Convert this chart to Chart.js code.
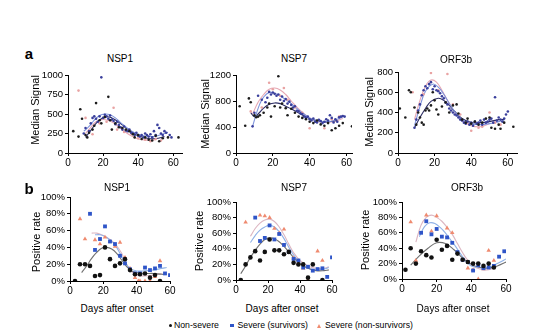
<!DOCTYPE html>
<html>
<head>
<meta charset="utf-8">
<script src="https://cdn.jsdelivr.net/npm/chart.js@4.4.1/dist/chart.umd.min.js"></script>
<style>
  body { margin:0; width:554px; height:335px; background:#fff; position:relative; overflow:hidden;
         font-family:"Liberation Sans", Arial, sans-serif; color:#000; }
  canvas { position:absolute; }
  .lbl { position:absolute; white-space:nowrap; line-height:1; transform:translate(-50%,-50%); }
  .ttl { font-size:10px; }
  .ytl { font-size:11px; transform:translate(-50%,-50%) rotate(-90deg); }
  .xtl { font-size:10px; }
  .let { font-size:15px; font-weight:bold; }
  .leg { position:absolute; top:320px; font-size:8.7px; white-space:nowrap; line-height:10px; }
  .leg span { display:inline-block; vertical-align:middle; margin-right:4px; }
</style>
</head>
<body>
<div class="leg" style="left:169px"><span style="width:3px;height:3px;border-radius:50%;background:#111;margin-right:2px"></span>Non-severe</div>
<div class="leg" style="left:230px"><span style="width:3.5px;height:3.5px;background:#2f55c8"></span>Severe (survivors)</div>
<div class="leg" style="left:317px"><span style="width:0;height:0;border-left:2.5px solid transparent;border-right:2.5px solid transparent;border-bottom:4px solid #ef8a6f"></span>Severe (non-survivors)</div>
<script>
// ---------- axis ticks ----------
const dayTicks = [0, 20, 40, 60];
const nsp1SignalTicks = [0, 250, 500, 750, 1000];
const nsp7SignalTicks = [0, 400, 800, 1200];
const orf3bSignalTicks = [0, 200, 400, 600, 800];
const rateTicks = [0, 20, 40, 60, 80, 100];

// ---------- a: median signal, NSP1 ----------
const nsp1SigNonSevere = [[3,280],[6,210],[7,560],[8,440],[10,230],[11,200],[12,260],[14,300],[15,350],[16,640],[18,420],[19,380],[21,460],[23,720],[24,420],[25,300],[27,380],[29,330],[31,320],[33,300],[35,280],[37,240],[38,200],[40,230],[42,180],[44,200],[46,170],[48,160],[50,220],[52,150],[54,190],[57,200],[63,200]];
const nsp1SigSurvivors = [[9,250],[10,320],[12,280],[13,380],[14,450],[15,470],[16,440],[17,400],[18,470],[19,970],[20,450],[21,490],[22,470],[23,440],[24,480],[25,430],[26,410],[27,370],[28,400],[29,360],[30,330],[31,300],[32,340],[33,290],[34,280],[35,300],[36,260],[37,250],[38,230],[39,260],[40,220],[41,210],[42,230],[43,200],[44,250],[45,230],[46,210],[47,240],[48,200],[49,280],[50,230],[51,360],[52,320],[53,250],[54,230],[55,280],[56,260],[58,230],[59,200]];
const nsp1SigNonSurvivors = [[6,800],[10,450],[14,240],[18,380],[22,400],[26,580],[28,300],[32,270],[36,250],[40,190],[44,170],[47,150],[50,180],[53,160]];
const nsp1SigFitDaysSurv = [9,12,15,18,21,24,27,30,35,40,45,50,55,57];
const nsp1SigFitSurv     = [280,340,420,480,500,490,450,390,300,240,215,215,250,265];
const nsp1SigFitDaysNon  = [10,13,16,19,22,25,28,31,35,40,45,50,55];
const nsp1SigFitNon      = [200,290,380,440,465,450,410,360,290,220,190,185,210];
const nsp1SigFitDaysDead = [10,13,16,20,24,28,32,36,40,45,50];
const nsp1SigFitDead     = [250,330,400,430,410,350,280,220,180,165,170];

// ---------- a: median signal, NSP7 ----------
const nsp7SigNonSevere = [[2,720],[5,420],[7,840],[8,780],[10,580],[11,550],[12,560],[13,580],[15,620],[17,700],[18,760],[19,560],[21,720],[23,1180],[24,700],[25,760],[27,690],[28,580],[30,680],[32,620],[34,560],[36,540],[38,520],[40,480],[42,460],[44,500],[46,440],[48,420],[50,460],[52,350],[54,380],[56,420],[58,460],[63,410]];
const nsp7SigSurvivors = [[9,410],[10,620],[12,880],[14,820],[16,780],[17,850],[18,940],[19,900],[20,930],[21,910],[22,880],[23,900],[24,820],[25,870],[26,800],[27,830],[28,760],[29,790],[30,740],[31,700],[32,720],[33,650],[34,640],[35,610],[36,600],[37,560],[38,540],[39,560],[40,520],[41,500],[42,530],[43,480],[44,470],[45,510],[46,490],[47,460],[48,480],[49,520],[50,500],[51,580],[52,540],[53,470],[54,520],[55,480],[56,550],[57,560],[58,570],[59,560]];
const nsp7SigNonSurvivors = [[8,640],[14,700],[18,1080],[20,980],[24,880],[26,1000],[28,820],[32,700],[36,620],[40,380],[44,480],[48,380],[52,520],[56,560]];
const nsp7SigFitDaysSurv = [9,11,13,15,18,21,24,27,30,35,40,45,50,55,59];
const nsp7SigFitSurv     = [410,600,760,860,930,920,880,820,760,640,540,490,480,520,570];
const nsp7SigFitDaysNon  = [8,10,12,15,18,21,24,27,30,35,40,45,50,55];
const nsp7SigFitNon      = [620,560,600,690,750,770,760,720,680,600,530,490,480,500];
const nsp7SigFitDaysDead = [9,12,15,18,21,24,27,30,35,40,45,50,55,58];
const nsp7SigFitDead     = [600,780,900,980,1000,970,900,800,650,540,480,470,500,530];

// ---------- a: median signal, ORF3b ----------
const orf3bSigNonSevere = [[1,440],[4,350],[6,620],[7,600],[9,450],[10,280],[11,400],[12,350],[13,300],[14,280],[15,420],[16,440],[17,420],[18,470],[19,600],[20,520],[21,430],[22,380],[24,460],[26,500],[28,400],[30,470],[32,480],[33,390],[35,330],[37,300],[38,340],[40,290],[42,310],[44,280],[46,300],[48,340],[50,350],[51,250],[53,240],[55,280],[56,240],[58,300],[63,260]];
const orf3bSigSurvivors = [[9,250],[10,330],[11,420],[12,480],[13,570],[14,620],[15,660],[16,640],[17,680],[18,700],[19,630],[20,660],[21,620],[22,610],[23,590],[24,560],[25,540],[26,500],[27,480],[28,440],[29,420],[30,400],[31,380],[32,370],[33,350],[34,330],[35,320],[36,300],[37,290],[38,310],[39,280],[40,300],[41,270],[42,310],[43,290],[44,300],[45,320],[46,280],[47,330],[48,300],[49,310],[50,330],[51,340],[52,300],[53,550],[54,320],[55,350],[56,330],[57,310],[58,340],[59,380],[60,410]];
const orf3bSigNonSurvivors = [[8,600],[14,580],[18,790],[22,620],[27,780],[30,480],[34,380],[38,300],[40,220],[44,250],[46,260],[50,400],[53,300],[56,280]];
const orf3bSigFitDaysSurv = [9,12,15,19,22,25,28,31,35,40,45,50,55,58];
const orf3bSigFitSurv     = [270,460,610,680,650,580,490,410,330,290,280,290,310,320];
const orf3bSigFitDaysNon  = [9,12,15,18,22,25,28,31,35,40,45,50,55,58];
const orf3bSigFitNon      = [250,350,440,510,540,520,470,410,340,300,300,310,330,330];
const orf3bSigFitDaysDead = [9,12,15,18,21,24,27,30,35,40,45,50];
const orf3bSigFitDead     = [330,520,660,720,700,620,520,430,320,270,260,290];

// ---------- b: positive rate (%), NSP1 ----------
const nsp1RateNonSevere = [[3,0],[6,20],[9,20],[12,18],[15,6],[18,7],[21,40],[24,26],[27,18],[30,21],[33,26],[36,13],[39,8],[42,8],[45,9],[48,4],[51,7],[54,0]];
const nsp1RateSurvivors = [[12,80],[15,37],[18,50],[21,65],[24,47],[27,44],[30,30],[33,21],[36,14],[39,9],[42,9],[45,16],[48,13],[51,15],[54,18],[57,9],[60,7]];
const nsp1RateNonSurvivors = [[6,74],[9,50],[15,49],[18,44],[21,52],[24,47],[27,41],[30,46],[33,28],[36,15],[39,4],[41,0],[42,0],[45,0],[48,0],[51,5],[54,24]];
const nsp1RateFitDaysNon  = [7,10,13,16,19,22,25,28,31,34,37,40,45,50,55,58];
const nsp1RateFitNon      = [10,18,27,34,39,40,38,33,25,17,12,10,9,9,8,8];
const nsp1RateFitDaysSurv = [15,18,21,24,27,30,33,36,40,45,50,55,58];
const nsp1RateFitSurv     = [55,55,53,49,43,33,22,15,12,12,13,15,16];
const nsp1RateFitDaysDead = [13,16,19,22,25,28,31,34,37,40,45,50,55];
const nsp1RateFitDead     = [57,57,55,52,48,42,33,20,11,7,6,7,9];

// ---------- b: positive rate (%), NSP7 ----------
const nsp7RateNonSevere = [[3,0],[6,20],[9,29],[12,37],[15,25],[18,36],[21,52],[24,38],[27,38],[30,33],[33,36],[36,22],[39,20],[42,20],[45,3],[48,20],[54,0]];
const nsp7RateSurvivors = [[12,80],[15,50],[18,54],[21,70],[24,52],[27,59],[30,45],[33,36],[36,27],[39,25],[42,16],[45,17],[48,12],[51,14],[54,15],[57,4],[60,29]];
const nsp7RateNonSurvivors = [[6,74],[15,83],[18,82],[21,80],[24,66],[27,60],[30,65],[36,28],[39,22],[42,15],[45,0],[51,37],[54,25]];
const nsp7RateFitDaysNon  = [3,6,9,12,15,18,21,24,27,30,33,36,40,45,50,55,58];
const nsp7RateFitNon      = [8,18,29,38,46,52,54,53,49,43,36,29,21,15,12,12,13];
const nsp7RateFitDaysSurv = [9,12,15,18,21,24,27,30,33,36,40,45,50,55,58];
const nsp7RateFitSurv     = [48,57,64,68,70,68,62,53,42,32,22,15,13,14,16];
const nsp7RateFitDaysDead = [9,12,15,18,21,24,27,30,33,36,40,45,50,55,58];
const nsp7RateFitDead     = [56,66,73,77,78,75,68,58,46,35,25,18,15,15,17];

// ---------- b: positive rate (%), ORF3b ----------
const orf3bRateNonSevere = [[2,12],[5,40],[8,20],[11,36],[14,31],[17,28],[20,51],[23,38],[26,43],[29,25],[32,33],[35,25],[38,22],[41,20],[44,20],[47,17],[50,20],[53,15]];
const orf3bRateSurvivors = [[11,60],[14,75],[17,58],[20,65],[23,55],[26,54],[29,47],[32,35],[35,25],[38,22],[41,11],[44,18],[47,14],[50,15],[53,17],[56,29],[59,36]];
const orf3bRateNonSurvivors = [[5,74],[8,24],[14,83],[17,62],[20,82],[26,66],[29,60],[35,25],[38,14],[41,12],[44,0],[47,13],[50,37],[53,24]];
const orf3bRateFitDaysNon  = [5,10,15,20,25,30,35,40,45,50,55,60];
const orf3bRateFitNon      = [18,30,40,47,46,38,27,19,15,14,17,22];
const orf3bRateFitDaysSurv = [10,13,16,19,22,25,28,31,34,37,40,45,50,55,60];
const orf3bRateFitSurv     = [55,68,73,72,67,60,51,42,32,23,17,15,15,20,26];
const orf3bRateFitDaysDead = [8,11,14,17,20,23,26,29,32,35,38,41,45,50,54];
const orf3bRateFitDead     = [48,70,80,83,80,75,67,58,46,34,24,17,13,12,16];

// ---------- helpers ----------
Chart.defaults.font.family = '"Liberation Sans", Arial, sans-serif';
Chart.defaults.color = '#000';

const YW = 36, XH = 17, PT = 8, PR = 10;
const pts = arr => arr.map(p => ({ x: p[0], y: p[1] }));
const fit = (days, vals) => days.map((d, i) => ({ x: d, y: vals[i] }));

function label(text, x, y, cls) {
    const d = document.createElement('div');
    d.className = 'lbl ' + cls;
    d.textContent = text;
    d.style.left = x + 'px';
    d.style.top = y + 'px';
    document.body.appendChild(d);
}

function scatterSet(data, color, style, r) {
    return { type: 'scatter', data: data, backgroundColor: color, borderColor: color,
             borderWidth: 0, pointStyle: style, pointRadius: r };
}
function lineSet(data, color) {
    return { type: 'line', data: data, borderColor: color, borderWidth: 1.1, tension: 0.4,
             pointRadius: 0, fill: false };
}

function makePanel(box, xMax, yMax, yTicks, pct, datasets) {
    const cv = document.createElement('canvas');
    cv.width = YW + box.w + PR;
    cv.height = PT + box.h + XH;
    cv.style.left = (box.x - YW) + 'px';
    cv.style.top = (box.y - PT) + 'px';
    document.body.appendChild(cv);

    const axisGrid = { drawOnChartArea: false, drawTicks: true, tickLength: 3, color: '#000', lineWidth: 1 };
    new Chart(cv, {
        type: 'scatter',
        data: { datasets: datasets },
        options: {
            responsive: false,
            animation: false,
            layout: { padding: { top: PT, right: PR, left: 0, bottom: 0 } },
            plugins: { legend: { display: false }, tooltip: { enabled: false } },
            scales: {
                x: {
                    type: 'linear', min: 0, max: xMax,
                    afterBuildTicks: s => { s.ticks = dayTicks.map(v => ({ value: v })); },
                    afterFit: s => { s.height = XH; },
                    grid: axisGrid,
                    border: { color: '#000', width: 1 },
                    ticks: { font: { size: 10 }, padding: 1, maxRotation: 0, autoSkip: false }
                },
                y: {
                    type: 'linear', min: 0, max: yMax,
                    afterBuildTicks: s => { s.ticks = yTicks.map(v => ({ value: v })); },
                    afterFit: s => { s.width = YW; },
                    grid: axisGrid,
                    border: { color: '#000', width: 1 },
                    ticks: { font: { size: 9.5 }, padding: 2, autoSkip: false,
                             callback: v => pct ? v + '%' : v }
                }
            }
        }
    });
}

// colours
const cNon = '#1c1c1c', cSurv = '#3a3f9c', cDead = '#e9a3a3';
const lNon = '#2b2b63', lSurv = '#7f94dc', lDead = '#e6a8b4';
const bNon = '#111111', bSurv = '#2f55c8', bDead = '#ef8a6f';
const rNon = '#707070', rSurv = '#8fb1e6', rDead = '#dcb6c2';

function signalSets(non, surv, dead, fitNon, fitSurv, fitDead) {
    return [
        scatterSet(pts(non), cNon, 'circle', 1.3),
        scatterSet(pts(surv), cSurv, 'circle', 1.3),
        scatterSet(pts(dead), cDead, 'circle', 1.3),
        lineSet(fitSurv, lSurv),
        lineSet(fitNon, lNon),
        lineSet(fitDead, lDead)
    ];
}
function rateSets(non, surv, dead, fitNon, fitSurv, fitDead) {
    return [
        scatterSet(pts(non), bNon, 'circle', 2.3),
        scatterSet(pts(surv), bSurv, 'rect', 2.7),
        scatterSet(pts(dead), bDead, 'triangle', 2.6),
        lineSet(fitNon, rNon),
        lineSet(fitSurv, rSurv),
        lineSet(fitDead, rDead)
    ];
}

// ---------- row a ----------
makePanel({ x: 68, y: 75, w: 114, h: 78 }, 65, 1000, nsp1SignalTicks, false,
    signalSets(nsp1SigNonSevere, nsp1SigSurvivors, nsp1SigNonSurvivors,
        fit(nsp1SigFitDaysNon, nsp1SigFitNon), fit(nsp1SigFitDaysSurv, nsp1SigFitSurv), fit(nsp1SigFitDaysDead, nsp1SigFitDead)));
makePanel({ x: 236, y: 75, w: 116, h: 78 }, 63, 1200, nsp7SignalTicks, false,
    signalSets(nsp7SigNonSevere, nsp7SigSurvivors, nsp7SigNonSurvivors,
        fit(nsp7SigFitDaysNon, nsp7SigFitNon), fit(nsp7SigFitDaysSurv, nsp7SigFitSurv), fit(nsp7SigFitDaysDead, nsp7SigFitDead)));
makePanel({ x: 398, y: 72, w: 119, h: 81 }, 65, 800, orf3bSignalTicks, false,
    signalSets(orf3bSigNonSevere, orf3bSigSurvivors, orf3bSigNonSurvivors,
        fit(orf3bSigFitDaysNon, orf3bSigFitNon), fit(orf3bSigFitDaysSurv, orf3bSigFitSurv), fit(orf3bSigFitDaysDead, orf3bSigFitDead)));

// ---------- row b ----------
makePanel({ x: 70, y: 197, w: 100, h: 84 }, 60, 100, rateTicks, true,
    rateSets(nsp1RateNonSevere, nsp1RateSurvivors, nsp1RateNonSurvivors,
        fit(nsp1RateFitDaysNon, nsp1RateFitNon), fit(nsp1RateFitDaysSurv, nsp1RateFitSurv), fit(nsp1RateFitDaysDead, nsp1RateFitDead)));
makePanel({ x: 236, y: 202, w: 96, h: 78 }, 60, 100, rateTicks, true,
    rateSets(nsp7RateNonSevere, nsp7RateSurvivors, nsp7RateNonSurvivors,
        fit(nsp7RateFitDaysNon, nsp7RateFitNon), fit(nsp7RateFitDaysSurv, nsp7RateFitSurv), fit(nsp7RateFitDaysDead, nsp7RateFitDead)));
makePanel({ x: 402, y: 202, w: 104, h: 77 }, 60, 100, rateTicks, true,
    rateSets(orf3bRateNonSevere, orf3bRateSurvivors, orf3bRateNonSurvivors,
        fit(orf3bRateFitDaysNon, orf3bRateFitNon), fit(orf3bRateFitDaysSurv, orf3bRateFitSurv), fit(orf3bRateFitDaysDead, orf3bRateFitDead)));

// ---------- text ----------
label('a', 29, 53, 'let');
label('b', 29, 188, 'let');
label('NSP1', 120, 59, 'ttl');
label('NSP7', 294, 59, 'ttl');
label('ORF3b', 456, 60, 'ttl');
label('NSP1', 117, 188, 'ttl');
label('NSP7', 294, 188, 'ttl');
label('ORF3b', 467, 188, 'ttl');
label('Median Signal', 35, 110, 'ytl');
label('Median Signal', 205, 114, 'ytl');
label('Median Signal', 369, 112, 'ytl');
label('Positive rate', 36, 242, 'ytl');
label('Positive rate', 199, 241, 'ytl');
label('Positive rate', 365, 240, 'ytl');
label('Days after onset', 117, 309, 'xtl');
label('Days after onset', 282, 309, 'xtl');
label('Days after onset', 453, 309, 'xtl');
</script>
</body>
</html>
